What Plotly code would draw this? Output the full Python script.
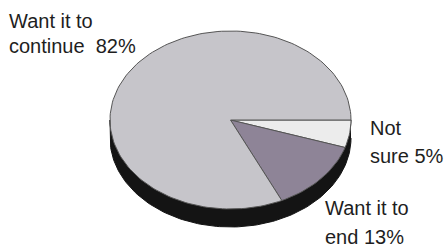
import numpy as np
import plotly.graph_objects as go

# ---- data ----
categories = ["Not sure", "Want it to end", "Want it to continue"]
values = [5, 13, 82]
label_lines = [["Not", "sure 5%"], ["Want it to", "end 13%"], ["Want it to", "continue  82%"]]
colors = ["#ececec", "#8e8497", "#c6c5ca"]

# ---- geometry (pixel space) ----
W, H = 445, 248
cx, cy, rx, ry, depth = 230.5, 120, 120.5, 89, 18

fig = go.Figure()

# side rim (3D depth)
t_top = np.linspace(0, np.pi, 120)
t_bot = np.linspace(np.pi, 0, 120)
rim_x = np.concatenate([cx + rx * np.cos(t_top), cx + rx * np.cos(t_bot)])
rim_y = np.concatenate([cy + ry * np.sin(t_top), cy + depth + ry * np.sin(t_bot)])
fig.add_trace(go.Scatter(x=rim_x, y=rim_y, fill="toself", mode="lines",
                         fillcolor="#141414", line=dict(color="#141414", width=1),
                         hoverinfo="skip", showlegend=False))

# slices
total = sum(values)
start = 0.0
for cat, v, c in zip(categories, values, colors):
    end = start + 2 * np.pi * v / total
    t = np.linspace(start, end, max(4, int(200 * v / total)))
    xs = np.concatenate([[cx], cx + rx * np.cos(t), [cx]])
    ys = np.concatenate([[cy], cy + ry * np.sin(t), [cy]])
    fig.add_trace(go.Scatter(x=xs, y=ys, fill="toself", mode="lines", name=cat,
                             fillcolor=c, line=dict(color="#555555", width=1),
                             hoverinfo="skip", showlegend=False))
    start = end

# labels (x, first baseline, line gap)
label_pos = [(368, 135, 28), (323, 215, 29), (7, 28, 25)]
fs = 20
for lines, (lx, by, gap) in zip(label_lines, label_pos):
    for i, line in enumerate(lines):
        fig.add_annotation(x=lx, y=by + i * gap - 7, xref="x", yref="y", text=line,
                           showarrow=False, xanchor="left", yanchor="middle",
                           font=dict(family="Liberation Sans, Arial, sans-serif", size=fs, color="#1e1e1e"))

fig.update_xaxes(range=[0, W], visible=False, fixedrange=True)
fig.update_yaxes(range=[H, 0], visible=False, fixedrange=True)
fig.update_layout(width=W, height=H, margin=dict(l=0, r=0, t=0, b=0),
                  paper_bgcolor="white", plot_bgcolor="white")
fig.write_html("out.html", config={"displayModeBar": False},
               post_script="document.body.style.margin='0';document.body.style.overflow='hidden';")
